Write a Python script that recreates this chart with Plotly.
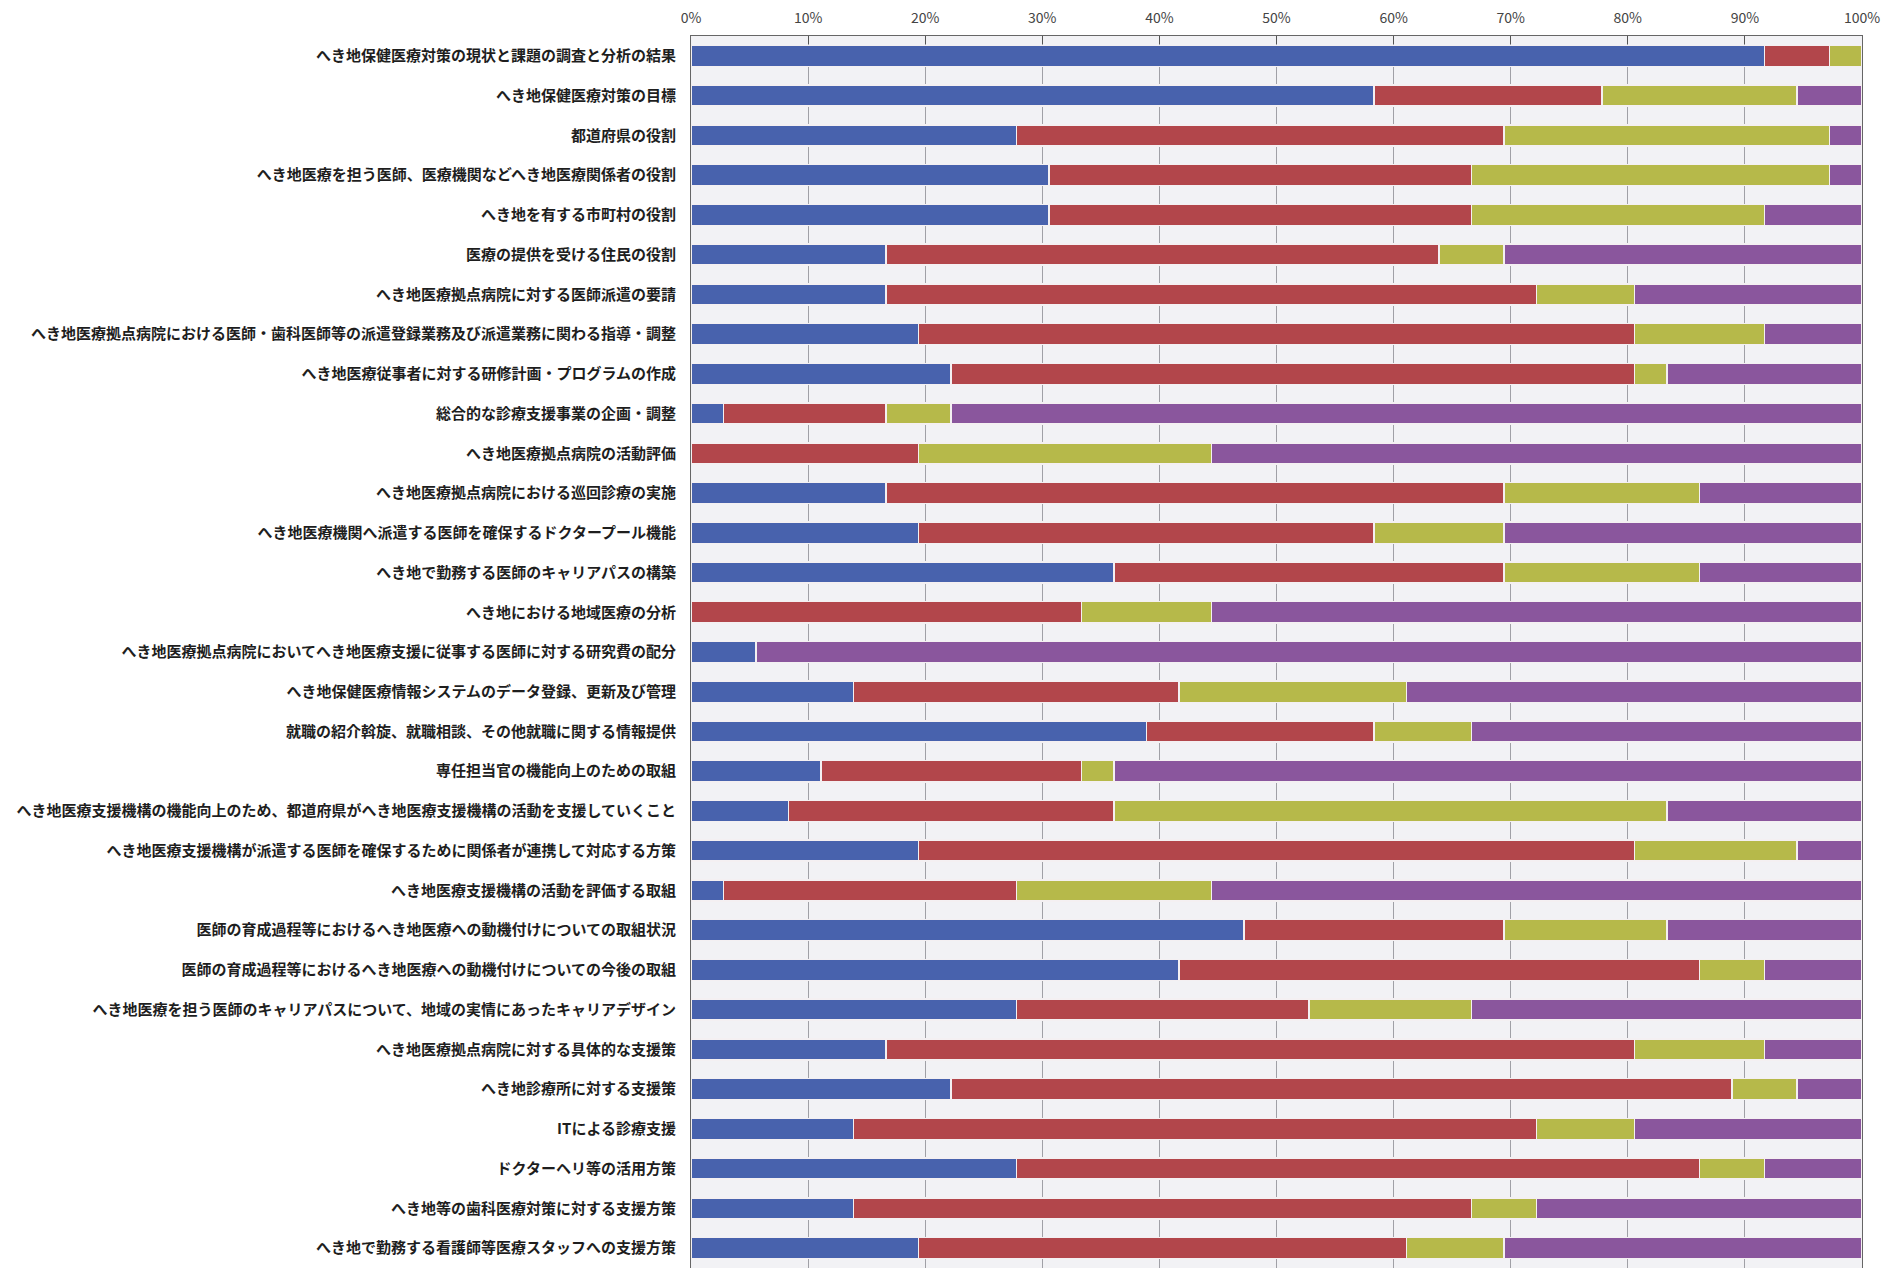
import plotly.graph_objects as go

# Survey items (top to bottom)
categories = [
    "へき地保健医療対策の現状と課題の調査と分析の結果",
    "へき地保健医療対策の目標",
    "都道府県の役割",
    "へき地医療を担う医師、医療機関などへき地医療関係者の役割",
    "へき地を有する市町村の役割",
    "医療の提供を受ける住民の役割",
    "へき地医療拠点病院に対する医師派遣の要請",
    "へき地医療拠点病院における医師・歯科医師等の派遣登録業務及び派遣業務に関わる指導・調整",
    "へき地医療従事者に対する研修計画・プログラムの作成",
    "総合的な診療支援事業の企画・調整",
    "へき地医療拠点病院の活動評価",
    "へき地医療拠点病院における巡回診療の実施",
    "へき地医療機関へ派遣する医師を確保するドクタープール機能",
    "へき地で勤務する医師のキャリアパスの構築",
    "へき地における地域医療の分析",
    "へき地医療拠点病院においてへき地医療支援に従事する医師に対する研究費の配分",
    "へき地保健医療情報システムのデータ登録、更新及び管理",
    "就職の紹介斡旋、就職相談、その他就職に関する情報提供",
    "専任担当官の機能向上のための取組",
    "へき地医療支援機構の機能向上のため、都道府県がへき地医療支援機構の活動を支援していくこと",
    "へき地医療支援機構が派遣する医師を確保するために関係者が連携して対応する方策",
    "へき地医療支援機構の活動を評価する取組",
    "医師の育成過程等におけるへき地医療への動機付けについての取組状況",
    "医師の育成過程等におけるへき地医療への動機付けについての今後の取組",
    "へき地医療を担う医師のキャリアパスについて、地域の実情にあったキャリアデザイン",
    "へき地医療拠点病院に対する具体的な支援策",
    "へき地診療所に対する支援策",
    "ITによる診療支援",
    "ドクターヘリ等の活用方策",
    "へき地等の歯科医療対策に対する支援方策",
    "へき地で勤務する看護師等医療スタッフへの支援方策",
]

# Response counts per item for each of the four answer groups
group1 = [33, 21, 10, 11, 11, 6, 6, 7, 8, 1, 0, 6, 7, 13, 0, 2, 5, 14, 4, 3,
          7, 1, 17, 15, 10, 6, 8, 5, 10, 5, 7]
group2 = [2, 7, 15, 13, 13, 17, 20, 22, 21, 5, 7, 19, 14, 12, 12, 0, 10, 7, 8, 10,
          22, 9, 8, 16, 9, 23, 24, 21, 21, 19, 15]
group3 = [1, 6, 10, 11, 9, 2, 3, 4, 1, 2, 9, 6, 4, 6, 4, 0, 7, 3, 1, 17,
          5, 6, 5, 2, 5, 4, 2, 3, 2, 2, 3]
group4 = [0, 2, 1, 1, 3, 11, 7, 3, 6, 28, 20, 5, 11, 5, 20, 34, 14, 12, 23, 6,
          2, 20, 6, 3, 12, 3, 2, 7, 3, 10, 11]

series_names = ["区分1", "区分2", "区分3", "区分4"]
series_values = [group1, group2, group3, group4]
series_colors = ["#4862ad", "#b2464b", "#b6b94a", "#8a569d"]

x_ticks = list(range(0, 101, 10))
x_tick_labels = [f"{v}%" for v in x_ticks]

fig = go.Figure()
for name, vals, color in zip(series_names, series_values, series_colors):
    fig.add_trace(go.Bar(
        y=categories,
        x=vals,
        name=name,
        orientation="h",
        marker=dict(color=color, line=dict(color="#f4f0f2", width=1.5)),
    ))

fig.update_layout(
    width=1898,
    height=1268,
    barmode="stack",
    barnorm="percent",
    bargap=0.47,
    showlegend=False,
    paper_bgcolor="white",
    plot_bgcolor="#f2f2f5",
    margin=dict(l=691, r=36, t=36, b=0, autoexpand=False),
    font=dict(family="Noto Sans CJK JP, sans-serif", color="#222222"),
)

fig.update_xaxes(
    side="top",
    range=[0, 100],
    tickmode="array",
    tickvals=x_ticks,
    ticktext=x_tick_labels,
    ticks="inside",
    ticklen=8,
    tickcolor="#555555",
    tickfont=dict(family="Noto Sans CJK JP, sans-serif", size=14, color="#444444"),
    ticklabelstandoff=6,
    showgrid=True,
    gridcolor="#a0a0a6",
    gridwidth=1,
    showline=True,
    linecolor="#666666",
    linewidth=1,
    mirror=True,
    zeroline=False,
    automargin=False,
    fixedrange=True,
)

fig.update_yaxes(
    autorange="reversed",
    tickfont=dict(family="Noto Sans CJK JP, sans-serif", size=15,
                  color="#1e1e1e", weight="bold"),
    ticklabelstandoff=11,
    ticks="",
    showline=True,
    linecolor="#666666",
    linewidth=1,
    mirror=True,
    showgrid=False,
    automargin=False,
    fixedrange=True,
)

fig.write_html("out.html")
